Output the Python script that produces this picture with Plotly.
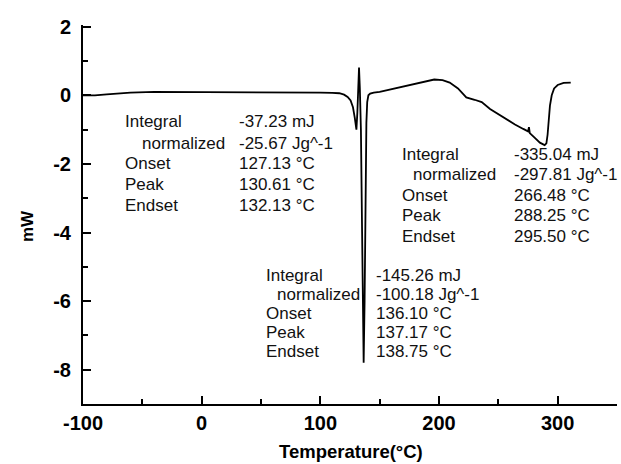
import plotly.graph_objects as go

# ---- data ----
temperature = [-100, -90, -80, -60, -40, 0, 50, 100, 110, 116, 120, 123, 125.5, 127.5, 129, 130.4,
               131.2, 132.0, 132.6, 133.3, 134.2, 135.2, 136.0, 136.5, 137.3, 138.0, 138.8, 139.5,
               140.5, 142, 145, 150, 165, 180, 190, 196, 203, 209, 216, 223, 230, 236, 243, 250,
               257, 264, 271, 275, 275.8, 276.5, 281, 285, 289, 290.5, 291.5, 292.5, 293.5, 295,
               297, 300, 305, 311]
heat_flow = [0.0, 0.0, 0.03, 0.08, 0.1, 0.1, 0.1, 0.08, 0.07, 0.06, 0.02, -0.05, -0.15, -0.35, -0.65, -1.0,
             -0.5, 0.3, 0.81, 0.2, -1.0, -4.0, -7.0, -7.8, -6.0, -3.0, -0.8, -0.2,
             0.0, 0.05, 0.08, 0.1, 0.22, 0.34, 0.42, 0.46, 0.44, 0.37, 0.2, -0.06, -0.13, -0.2, -0.4, -0.55,
             -0.72, -0.85, -0.98, -1.05, -0.93, -1.1, -1.25, -1.38, -1.45, -1.4, -1.15, -0.7, -0.3, 0.0,
             0.2, 0.3, 0.36, 0.37]

x_ticks = [-100, 0, 100, 200, 300]
x_tick_labels = ["-100", "0", "100", "200", "300"]
y_ticks = [-8, -6, -4, -2, 0, 2]
y_tick_labels = ["-8", "-6", "-4", "-2", "0", "2"]

row_labels = ["Integral", "normalized", "Onset", "Peak", "Endset"]
block1_values = ["-37.23 mJ", "-25.67 Jg^-1", "127.13 °C", "130.61 °C", "132.13 °C"]
block2_values = ["-335.04 mJ", "-297.81 Jg^-1", "266.48 °C", "288.25 °C", "295.50 °C"]
block3_values = ["-145.26 mJ", "-100.18 Jg^-1", "136.10 °C", "137.17 °C", "138.75 °C"]

x_title = "Temperature(°C)"
y_title = "mW"

# ---- layout geometry (pixels) ----
W, H = 621, 464
ML, MR, MT, MB = 83, 4, 25, 60
PW, PH = W - ML - MR, H - MT - MB


def px_x(px):
    return (px - ML) / PW


def px_y(py):
    return (H - MB - py) / PH


FONT = "Liberation Sans, Arial, sans-serif"

fig = go.Figure()
fig.add_trace(go.Scatter(x=temperature, y=heat_flow, mode="lines",
                         line=dict(color="black", width=1.8), showlegend=False))

annotations = []
# blocks: (label_x, indent_x, value_x, first_row_y, row_step, values)
blocks = [
    (123, 140, 237, 122, 21.0, block1_values),
    (400, 411, 512, 154, 20.6, block2_values),
    (264, 275, 374, 275, 19.2, block3_values),
]
for lx, ix, vx, y0, step, vals in blocks:
    for i, (lab, val) in enumerate(zip(row_labels, vals)):
        yy = y0 + i * step
        annotations.append(dict(text=lab, x=px_x(ix if i == 1 else lx), y=px_y(yy),
                                xref="paper", yref="paper", xanchor="left", yanchor="middle",
                                showarrow=False, font=dict(family=FONT, size=17, color="#111")))
        annotations.append(dict(text=val, x=px_x(vx), y=px_y(yy),
                                xref="paper", yref="paper", xanchor="left", yanchor="middle",
                                showarrow=False, font=dict(family=FONT, size=17, color="#111")))

annotations.append(dict(text=x_title, x=px_x(351), y=px_y(451), xref="paper", yref="paper",
                        xanchor="center", yanchor="middle", showarrow=False,
                        font=dict(family=FONT, size=18.5, color="black", weight="bold")))
annotations.append(dict(text=y_title, x=px_x(27), y=px_y(226), xref="paper", yref="paper",
                        xanchor="center", yanchor="middle", showarrow=False, textangle=-90,
                        font=dict(family=FONT, size=17, color="black", weight="bold")))

fig.update_layout(
    width=W, height=H,
    margin=dict(l=ML, r=MR, t=MT, b=MB),
    paper_bgcolor="white", plot_bgcolor="white",
    font=dict(family=FONT, color="black"),
    annotations=annotations,
    xaxis=dict(range=[-100, 350], tickvals=x_ticks, ticktext=x_tick_labels,
               ticks="inside", ticklen=8, tickwidth=2,
               tickcolor="black", showline=True, linewidth=2, linecolor="black",
               showgrid=False, zeroline=False, ticklabelstandoff=0,
               tickfont=dict(family=FONT, size=20, color="black", weight="bold"),
               minor=dict(dtick=50, tick0=-100, ticks="inside", ticklen=5, tickwidth=2,
                          tickcolor="black", showgrid=False)),
    yaxis=dict(range=[-9, 2.05], tickvals=y_ticks, ticktext=y_tick_labels,
               ticks="inside", ticklen=8, tickwidth=2,
               tickcolor="black", showline=True, linewidth=2, linecolor="black",
               showgrid=False, zeroline=False, ticklabelstandoff=6,
               tickfont=dict(family=FONT, size=20, color="black", weight="bold"),
               minor=dict(dtick=1, tick0=0, ticks="inside", ticklen=5, tickwidth=2,
                          tickcolor="black", showgrid=False)),
)

fig.write_html("out.html")
